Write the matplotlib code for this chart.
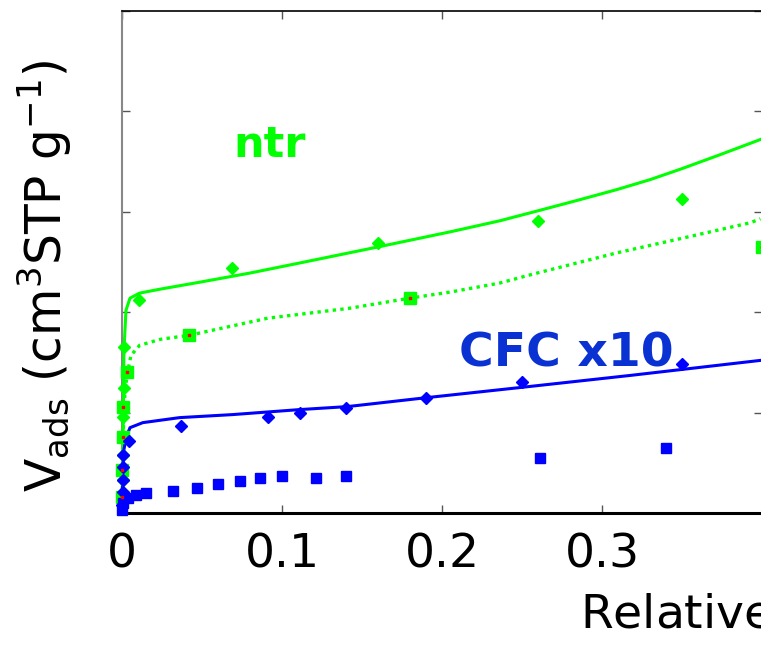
import matplotlib
matplotlib.use("Agg")
import matplotlib.pyplot as plt

plt.rcParams['font.family'] = ['DejaVu Sans']
plt.rcParams['mathtext.default'] = 'regular'

# ---- data (relative pressure, adsorbed volume in axis units) ----
ntr_fit_x = [0, 0.0006, 0.0012, 0.0025, 0.005, 0.011, 0.024, 0.049, 0.08, 0.111, 0.16, 0.205,
             0.236, 0.26, 0.286, 0.309, 0.33, 0.35, 0.374, 0.399]
ntr_fit_y = [0, 0.63, 1.62, 2.02, 2.14, 2.19, 2.23, 2.30, 2.39, 2.49, 2.65, 2.80,
             2.91, 3.01, 3.12, 3.22, 3.32, 3.43, 3.57, 3.72]

ntr_fit2_x = [0, 0.0006, 0.0019, 0.0037, 0.0056, 0.011, 0.024, 0.042, 0.091, 0.1425, 0.18, 0.205,
              0.236, 0.257, 0.309, 0.351, 0.3925, 0.399]
ntr_fit2_y = [0, 0.73, 1.23, 1.42, 1.57, 1.67, 1.73, 1.77, 1.94, 2.04, 2.14, 2.20,
              2.29, 2.38, 2.59, 2.74, 2.89, 2.93]

ntr_dia_x = [0.0003, 0.0004, 0.0005, 0.0006, 0.0008, 0.0010, 0.0012, 0.0106, 0.069, 0.160, 0.260, 0.350]
ntr_dia_y = [0.16, 0.33, 0.58, 0.76, 0.96, 1.25, 1.65, 2.12, 2.44, 2.69, 2.91, 3.13]

ntr_sq_x = [0.0002, 0.0003, 0.0004, 0.0006, 0.003, 0.042, 0.180, 0.400]
ntr_sq_y = [0.16, 0.43, 0.76, 1.06, 1.40, 1.77, 2.14, 2.65]

cfc_fit_x = [0, 0.0006, 0.0012, 0.0025, 0.005, 0.013, 0.036, 0.069, 0.111, 0.141, 0.191, 0.249, 0.3175, 0.399]
cfc_fit_y = [0, 0.43, 0.63, 0.75, 0.85, 0.90, 0.95, 0.98, 1.03, 1.06, 1.15, 1.25, 1.37, 1.52]

cfc_dia_x = [0.0003, 0.0004, 0.0005, 0.0006, 0.0007, 0.0044, 0.037, 0.091, 0.111, 0.140, 0.190, 0.250, 0.350]
cfc_dia_y = [0.08, 0.21, 0.33, 0.46, 0.58, 0.72, 0.87, 0.96, 1.00, 1.05, 1.15, 1.30, 1.48]

cfc_sq_x = [0.0002, 0.0005, 0.0037, 0.0088, 0.015, 0.032, 0.047, 0.060, 0.074, 0.086, 0.100, 0.121, 0.140, 0.261, 0.340]
cfc_sq_y = [0.03, 0.10, 0.15, 0.18, 0.20, 0.22, 0.25, 0.29, 0.32, 0.35, 0.37, 0.35, 0.37, 0.55, 0.65]

x_ticks = [0, 0.1, 0.2, 0.3, 0.4]
x_tick_labels = ['0', '0.1', '0.2', '0.3', '']
y_ticks = [0, 1, 2, 3, 4, 5]

GREEN = '#00ff00'
BLUE = '#0000ff'

fig = plt.figure(figsize=(7.61, 6.47), dpi=100)
ax = fig.add_axes([122/761, 1-513/647, 640/761, 502/647])

ax.plot(ntr_fit_x, ntr_fit_y, color=GREEN, lw=2.2, zorder=3)
ax.plot(ntr_fit2_x, ntr_fit2_y, color=GREEN, lw=2.4, ls=(0, (1, 1.3)), zorder=3)
ax.plot(cfc_fit_x, cfc_fit_y, color=BLUE, lw=2.2, zorder=3)

ax.plot(ntr_dia_x, ntr_dia_y, ls='none', marker='D', ms=6, color=GREEN, zorder=4)
ax.plot(ntr_sq_x, ntr_sq_y, ls='none', marker='s', ms=8, color=GREEN, zorder=4)
ax.plot(ntr_sq_x, ntr_sq_y, ls='none', marker='s', ms=1.5, color='red', zorder=5)
ax.plot(cfc_dia_x, cfc_dia_y, ls='none', marker='D', ms=6, color=BLUE, zorder=4)
ax.plot(cfc_sq_x, cfc_sq_y, ls='none', marker='s', ms=7.5, color=BLUE, zorder=4)

ax.text(0.0925, 3.67, 'ntr', color=GREEN, fontsize=31, fontweight='bold', ha='center', va='center')
ax.text(0.278, 1.58, 'CFC x10', color='#0a32d2', fontsize=34, fontweight='bold', ha='center', va='center')

ax.set_xlim(0, 0.4)
ax.set_ylim(0, 5)
ax.set_xticks(x_ticks)
ax.set_xticklabels(x_tick_labels)
ax.set_yticks(y_ticks)
ax.set_yticklabels([])
ax.tick_params(axis='both', direction='in', length=6, width=1, colors='#555555',
               top=True, right=True, labelcolor='black')
ax.tick_params(axis='x', labelsize=34, pad=14)

ax.spines['left'].set_color('#888888')
ax.spines['left'].set_linewidth(1.5)
ax.spines['bottom'].set_color('black')
ax.spines['bottom'].set_linewidth(2.2)
ax.spines['top'].set_color('black')
ax.spines['top'].set_linewidth(1.2)
ax.spines['right'].set_color('black')
for m in ax.lines:
    m.set_clip_on(False)

fig.text(45/761, 1-276/647, 'V$_{ads}$ (cm$^3$STP g$^{-1}$)', rotation=90,
         ha='center', va='center', fontsize=35)
fig.text(580/761, 1-615/647, 'Relative pressure (P/P$_0$)', ha='left', va='center', fontsize=34)

fig.savefig('out.png', dpi=100)
